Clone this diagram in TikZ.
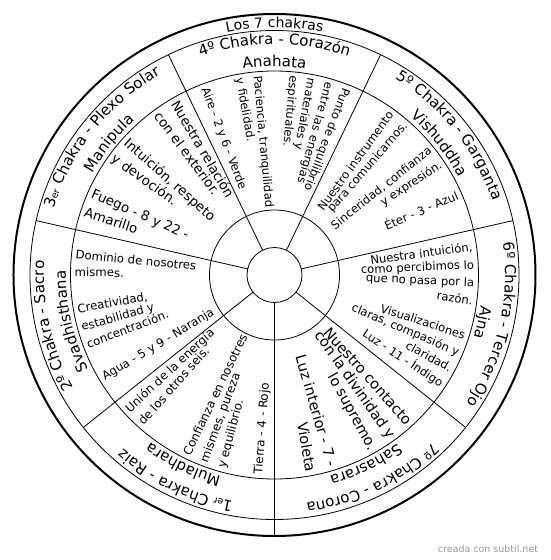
\documentclass[tikz,border=0pt]{standalone}
\usepackage{fontspec}
\setmainfont{DejaVu Sans}
\usetikzlibrary{decorations.text}
\newcommand\fname{\fontsize{15}{18}\selectfont}
\newcommand\fsupr{\fontsize{9.5}{10}\selectfont\raisebox{5.5pt}}
\newcommand\ftitle{\fontsize{14}{16}\selectfont}
\newcommand\arctext[3]{\path[decorate,decoration={text along path,text align=center,text={#3}}] ({#1+70}:#2) arc[start angle={#1+70},end angle={#1-70},radius=#2];}
\begin{document}
\begin{tikzpicture}[
  ln/.style={line width=0.8pt, draw=black},
  inw/.style={anchor=mid west, inner sep=0pt},
  outw/.style={anchor=mid east, inner sep=0pt},
  fa/.style={font=\fontsize{11.6}{14}\selectfont},
  fb/.style={font=\fontsize{11.9}{14}\selectfont},
  fc/.style={font=\fontsize{11.7}{14}\selectfont},
  fd/.style={font=\fontsize{13.4}{16}\selectfont},
  fe/.style={font=\fontsize{14.5}{17}\selectfont},
]
\useasboundingbox (-274.5pt,-285pt) rectangle (275.5pt,275pt);
\fill[white] (-274.5pt,-285pt) rectangle (275.5pt,275pt);
% circles
\draw[line width=2pt] (0,0) circle[radius=261pt];
\draw[ln] (0,0) circle[radius=244.5pt];
\draw[ln] (0,0) circle[radius=204pt];
\draw[ln] (0,0) circle[radius=65pt];
\draw[ln] (0,0) circle[radius=27.5pt];
% radial dividers
\foreach \a in {12.857,64.286,115.714,167.143,218.571,321.429}
  \draw[ln] (\a:27.5pt) -- (\a:244.5pt);
\draw[line width=1.3pt] (270:27.5pt) -- (270:261pt);
% title
\arctext{90}{247.5pt}{|\ftitle|Los 7 chakras}
% chakra names
\arctext{90}{230.5pt}{|\fname|4º Chakra - Corazón}
\arctext{90}{208.5pt}{|\fname|Anahata}
\arctext{38.571}{230.5pt}{|\fname|5º Chakra - Garganta}
\arctext{38.571}{208.5pt}{|\fname|Vishuddha}
\arctext{-12.857}{230.5pt}{|\fname|6º Chakra - Tercer Ojo}
\arctext{-12.857}{208.5pt}{|\fname|Ajna}
\arctext{-64.286}{230.5pt}{|\fname|7º Chakra - Corona}
\arctext{-64.286}{208.5pt}{|\fname|Sahasrara}
\arctext{-115.714}{230.5pt}{|\fname|1|\fsupr|er|\fname| Chakra - Raiz}
\arctext{-115.714}{208.5pt}{|\fname|Muladhara}
\arctext{-167.143}{230.5pt}{|\fname|2º Chakra - Sacro}
\arctext{-167.143}{208.5pt}{|\fname|Svadhisthana}
\arctext{141.429}{230.5pt}{|\fname|3|\fsupr|er|\fname| Chakra - Plexo Solar}
\arctext{141.429}{208.5pt}{|\fname|Manipula}
% sector 4 (top)
\node[inw,fa,rotate=-110.72] (s4a) at (69.28:200pt) {Punto de equilibrio};
\node[inw,fa,rotate=-105.54] (s4b) at (74.46:200pt) {entre las energías};
\node[inw,fa,rotate=-100.36] (s4c) at (79.64:200pt) {materiales y};
\node[inw,fa,rotate=-95.18] (s4d) at (84.82:200pt) {espirituales.};
\node[inw,fa,rotate=-84.82] (s4e) at (95.18:200pt) {Paciencia, tranquilidad};
\node[inw,fa,rotate=-79.64] (s4f) at (100.36:200pt) {y fidelidad.};
\node[inw,fa,rotate=-69.28] (s4g) at (110.72:200pt) {Aire - 2 y 6 - Verde};
% sector 5
\node[outw,fa,rotate=54.02] (s5a) at (54.02:200pt) {Nuestro instrumento};
\node[outw,fa,rotate=48.87] (s5b) at (48.87:200pt) {para comunicarnos.};
\node[outw,fa,rotate=38.57] (s5c) at (38.57:200pt) {Sinceridad, confianza};
\node[outw,fa,rotate=33.42] (s5d) at (33.42:200pt) {y expresión.};
\node[outw,fa,rotate=23.12] (s5e) at (23.12:200pt) {Éter - 3 - Azul};
% sector 6
\node[outw,fa,rotate=7.74] (s6a) at (7.74:200pt) {Nuestra intuición,};
\node[outw,fa,rotate=2.59] (s6b) at (2.59:200pt) {como percibimos lo};
\node[outw,fa,rotate=-2.56] (s6c) at (-2.56:200pt) {que no pasa por la};
\node[outw,fa,rotate=-7.71] (s6d) at (-7.71:200pt) {razón.};
\node[outw,fa,rotate=-18.01] (s6e) at (-18.01:200pt) {Visualizaciones};
\node[outw,fa,rotate=-23.16] (s6f) at (-23.16:200pt) {claras, compasión y};
\node[outw,fa,rotate=-28.31] (s6g) at (-28.31:200pt) {claridad.};
\node[outw,fa,rotate=-33.46] (s6h) at (-33.46:200pt) {Luz - 11 - Índigo};
% sector 7
\node[outw,fe,rotate=-48.29] (s7a) at (-48.29:200pt) {Nuestro contacto};
\node[outw,fe,rotate=-54.69] (s7b) at (-54.69:200pt) {con la divinidad y};
\node[outw,fe,rotate=-61.09] (s7c) at (-61.09:200pt) {lo supremo.};
\node[outw,fe,rotate=-73.89] (s7d) at (-73.89:200pt) {Luz interior - 7 -};
\node[outw,fe,rotate=-80.29] (s7e) at (-80.29:200pt) {Violeta};
% sector 1
\node[inw,fb,rotate=42.93] (s1a) at (222.93:200pt) {Unión de la energía};
\node[inw,fb,rotate=48.27] (s1b) at (228.27:200pt) {de los otros seis.};
\node[inw,fb,rotate=64.29] (s1c) at (244.29:200pt) {Confianza en nosotres};
\node[inw,fb,rotate=69.63] (s1d) at (249.63:200pt) {mismes, pureza};
\node[inw,fb,rotate=74.97] (s1e) at (254.97:200pt) {y equilibrio.};
\node[inw,fb,rotate=85.65] (s1f) at (265.65:200pt) {Tierra - 4 - Rojo};
% sector 2
\node[inw,fc,rotate=-5.51] (s2a) at (174.49:200pt) {Dominio de nosotres};
\node[inw,fc,rotate=-0.26] (s2b) at (179.74:200pt) {mismes.};
\node[inw,fc,rotate=10.24] (s2c) at (190.24:200pt) {Creatividad,};
\node[inw,fc,rotate=15.49] (s2d) at (195.49:200pt) {estabilidad y};
\node[inw,fc,rotate=20.74] (s2e) at (200.74:200pt) {concentración.};
\node[inw,fc,rotate=31.24] (s2f) at (211.24:200pt) {Agua - 5 y 9 - Naranja};
% sector 3
\node[inw,fd,rotate=-59.43] (s3a) at (120.57:200pt) {Nuestra relación};
\node[inw,fd,rotate=-53.47] (s3b) at (126.53:200pt) {con el exterior.};
\node[inw,fd,rotate=-41.55] (s3c) at (138.45:200pt) {Intuición, respeto};
\node[inw,fd,rotate=-35.59] (s3d) at (144.41:200pt) {y devoción.};
\node[inw,fd,rotate=-23.67] (s3e) at (156.33:200pt) {Fuego - 8 y 22 -};
\node[inw,fd,rotate=-17.71] (s3f) at (162.29:200pt) {Amarillo};
% watermark
\node[text=black!40, font=\fontsize{9.5}{11}\selectfont] (wm) at (213.5pt,-274pt) {creada con subtil.net};
\end{tikzpicture}
\end{document}
